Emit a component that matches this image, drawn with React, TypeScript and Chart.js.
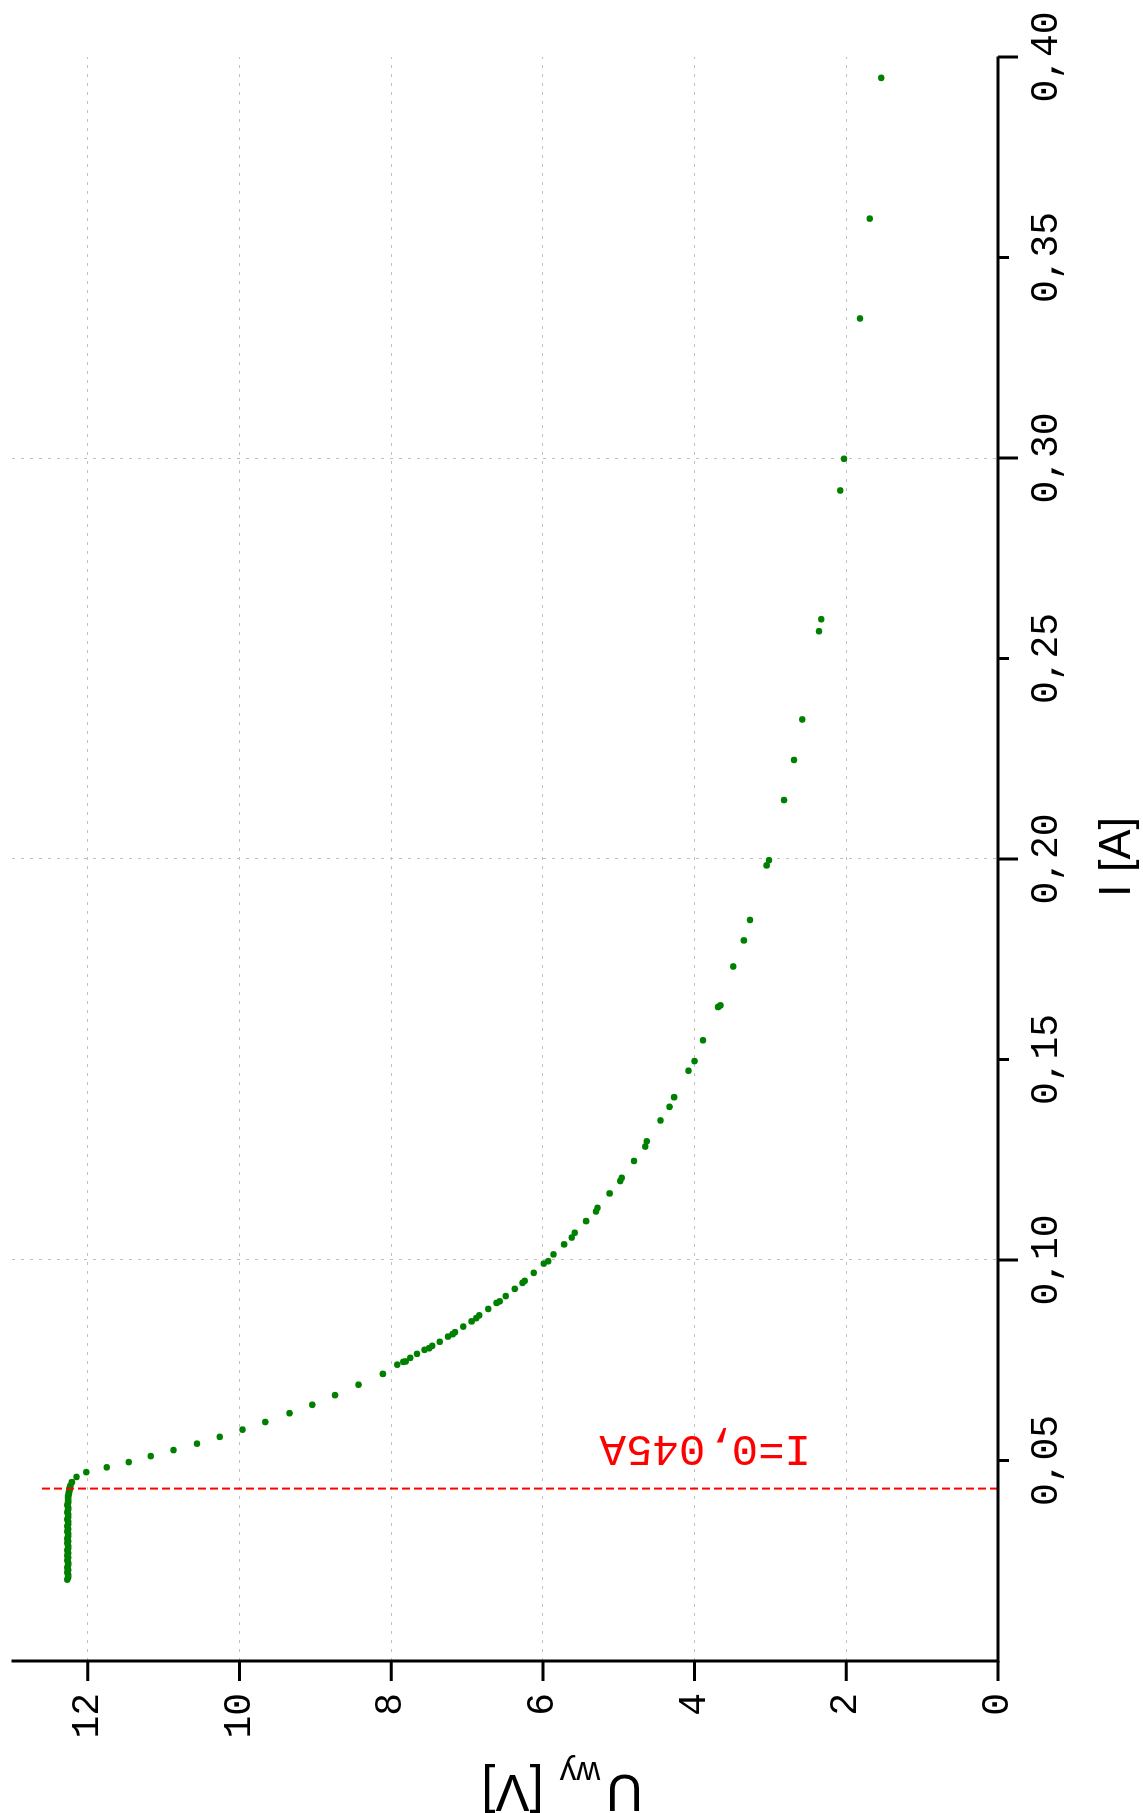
import React, { useEffect, useRef } from 'react';
import { Chart, registerables } from 'chart.js';

Chart.register(...registerables);

// Measured load characteristic: current I [A] and output voltage U_wy [V]
const currentA = [
  0.3948, 0.3597, 0.3348, 0.2998, 0.2919, 0.2598, 0.2568, 0.2348, 0.2247, 0.2147,
  0.1997, 0.1984, 0.1848, 0.1797, 0.1732, 0.1635, 0.1631, 0.1548, 0.1496, 0.1472,
  0.1406, 0.1382, 0.1348, 0.1296, 0.1283, 0.1247, 0.1205, 0.1197, 0.1166, 0.1130,
  0.1121, 0.1097, 0.1068, 0.1056, 0.1039, 0.1014, 0.0997, 0.0991, 0.0968, 0.0948,
  0.0943, 0.0928, 0.0910, 0.0897, 0.0893, 0.0878, 0.0862, 0.0855, 0.0847, 0.0834,
  0.0820, 0.0815, 0.0809, 0.0796, 0.0786, 0.0780, 0.0776, 0.0766, 0.0756, 0.0747,
  0.0746, 0.0739, 0.0716, 0.0689, 0.0663, 0.0639, 0.0618, 0.0596, 0.0577, 0.0559,
  0.0542, 0.0526, 0.0511, 0.0496, 0.0483, 0.0471, 0.0459, 0.0446, 0.0437,
];
const voltageV = [
  1.54, 1.69, 1.82, 2.03, 2.08, 2.33, 2.36, 2.58, 2.69, 2.82,
  3.02, 3.05, 3.27, 3.35, 3.49, 3.66, 3.69, 3.89, 4.00, 4.08,
  4.27, 4.33, 4.45, 4.63, 4.65, 4.80, 4.96, 4.98, 5.12, 5.28,
  5.30, 5.43, 5.58, 5.62, 5.72, 5.86, 5.93, 5.99, 6.12, 6.24,
  6.27, 6.37, 6.49, 6.57, 6.61, 6.72, 6.84, 6.88, 6.94, 7.05,
  7.16, 7.19, 7.25, 7.36, 7.46, 7.50, 7.56, 7.66, 7.75, 7.81,
  7.84, 7.92, 8.11, 8.43, 8.74, 9.04, 9.34, 9.66, 9.96, 10.26,
  10.56, 10.87, 11.17, 11.46, 11.75, 12.02, 12.15, 12.21, 12.23,
];
// Dense no-load region (points overlap into a solid column)
const clusterCurrentA = [
  0.0431, 0.0426, 0.0421, 0.0417, 0.0411, 0.0406, 0.0400, 0.0395, 0.0389, 0.0383,
  0.0378, 0.0371, 0.0366, 0.0359, 0.0353, 0.0348, 0.0341, 0.0336, 0.0329, 0.0323,
  0.0318, 0.0311, 0.0305, 0.0299, 0.0294, 0.0287, 0.0281, 0.0276, 0.0269, 0.0263,
  0.0258, 0.0251, 0.0245, 0.0240, 0.0233, 0.0227, 0.0221, 0.0215, 0.0209, 0.0203,
];
const clusterVoltageV = [
  12.24, 12.24, 12.25, 12.25, 12.26, 12.26, 12.26, 12.26, 12.27, 12.26,
  12.26, 12.27, 12.26, 12.26, 12.27, 12.26, 12.26, 12.27, 12.26, 12.27,
  12.26, 12.26, 12.27, 12.26, 12.27, 12.26, 12.26, 12.27, 12.26, 12.27,
  12.26, 12.27, 12.26, 12.26, 12.27, 12.26, 12.27, 12.26, 12.26, 12.27,
];

const cutoffCurrentA = 0.043;
const cutoffTopV = 12.65;
const cutoffLabel = 'I=0,045A';
const cutoffLabelV = 3.86;

const xTitle = 'I [A]';
const yTitleMain = 'U';
const yTitleSub = 'wy';
const yTitleUnit = ' [V]';

const xMin = 0;
const xMax = 0.4;
const xStep = 0.05;
const yMin = 0;
const yMax = 13;
const yStep = 1;

const GREEN = '#008000';
const RED = '#ff0000';
const GRID = '#c0c0c0';
const MONO = "'Liberation Mono', 'DejaVu Sans Mono', monospace";
const SANS = "'Liberation Sans', Arial, sans-serif";

const isMajorI = (v: number) => {
  const k = Math.round(v * 100);
  return k % 10 === 0;
};
const isMajorU = (v: number) => Math.round(v) % 2 === 0;

const zeroPadding = (s: any) => {
  s.paddingTop = 0;
  s.paddingBottom = 0;
  s.paddingLeft = 0;
  s.paddingRight = 0;
};

const decorPlugin = {
  id: 'decor',
  afterDraw(chart: any) {
    const ctx: CanvasRenderingContext2D = chart.ctx;
    const xs = chart.scales.x;
    const ys = chart.scales.y;
    const { left, right, top, bottom } = chart.chartArea;
    ctx.save();
    // axis lines
    ctx.strokeStyle = '#000';
    ctx.lineWidth = 3;
    ctx.lineJoin = 'miter';
    ctx.lineCap = 'butt';
    ctx.beginPath();
    ctx.moveTo(left, top - 0.5);
    ctx.lineTo(left, bottom);
    ctx.lineTo(right + 0.5, bottom);
    ctx.stroke();
    // tick marks
    ctx.beginPath();
    xs.ticks.forEach((t: any) => {
      const v = t.value;
      if (Math.abs(v) < 1e-9) return;
      const px = xs.getPixelForValue(v);
      const len = isMajorI(v) ? 20 : 11;
      ctx.moveTo(px, bottom);
      ctx.lineTo(px, bottom + len);
    });
    ys.ticks.forEach((t: any) => {
      const v = t.value;
      const py = ys.getPixelForValue(v);
      const len = isMajorU(v) ? 20 : 11;
      ctx.moveTo(left, py);
      ctx.lineTo(left - len, py);
    });
    ctx.stroke();

    // x title
    ctx.fillStyle = '#000';
    ctx.font = `45px ${SANS}`;
    ctx.textAlign = 'center';
    ctx.textBaseline = 'alphabetic';
    ctx.fillText(xTitle, (left + right) / 2 + 2, bottom + 132);

    // y title with subscript, rotated
    ctx.save();
    ctx.translate(38, 643);
    ctx.rotate(-Math.PI / 2);
    ctx.textAlign = 'left';
    ctx.font = `51px ${SANS}`;
    ctx.fillText(yTitleMain, 0, 0);
    let cx = ctx.measureText(yTitleMain).width + 6;
    ctx.font = `33px ${SANS}`;
    ctx.fillText(yTitleSub, cx, 13);
    cx += ctx.measureText(yTitleSub).width + 2;
    ctx.font = `51px ${SANS}`;
    ctx.fillText(yTitleUnit, cx, 0);
    ctx.restore();

    // cutoff annotation
    ctx.save();
    ctx.translate(xs.getPixelForValue(cutoffCurrentA) + 41, ys.getPixelForValue(cutoffLabelV));
    ctx.rotate(-Math.PI / 2);
    ctx.fillStyle = RED;
    ctx.font = `44px ${MONO}`;
    ctx.textAlign = 'center';
    ctx.textBaseline = 'middle';
    ctx.fillText(cutoffLabel, 0, 0);
    ctx.restore();

    ctx.restore();
  },
};

export default function App() {
  const ref = useRef<HTMLCanvasElement>(null);

  useEffect(() => {
    const points = [
      ...currentA.map((x, i) => ({ x, y: voltageV[i] })),
      ...clusterCurrentA.map((x, i) => ({ x, y: clusterVoltageV[i] })),
    ];
    const chart = new Chart(ref.current as HTMLCanvasElement, {
      type: 'scatter',
      data: {
        datasets: [
          {
            type: 'line',
            data: [
              { x: cutoffCurrentA, y: 0 },
              { x: cutoffCurrentA, y: cutoffTopV },
            ],
            borderColor: RED,
            borderWidth: 2,
            borderDash: [8, 4],
            pointRadius: 0,
            fill: false,
            showLine: true,
          } as any,
          {
            data: points,
            backgroundColor: GREEN,
            borderColor: GREEN,
            borderWidth: 0,
            pointRadius: 3.3,
          },
        ],
      },
      options: {
        responsive: false,
        animation: false,
        devicePixelRatio: 1,
        events: [],
        layout: { padding: { top: 12, right: 57, left: 0, bottom: 0 } },
        plugins: { legend: { display: false }, tooltip: { enabled: false } },
        scales: {
          x: {
            type: 'linear',
            position: 'bottom',
            min: xMin,
            max: xMax,
            ticks: {
              stepSize: xStep,
              autoSkip: false,
              maxRotation: 0,
              minRotation: 0,
              padding: 26,
              color: '#000',
              font: { family: MONO, size: 38 },
              callback: (value: any) => {
                const v = Number(value);
                if (Math.abs(v) < 1e-9) return null;
                return v.toFixed(2).replace('.', ',');
              },
            },
            grid: {
              drawTicks: false,
              lineWidth: 1,
              color: (c: any) => {
                const v = c.tick ? c.tick.value : 0;
                const k = Math.round(v * 100);
                return k > 0 && k < 40 && k % 10 === 0 ? GRID : 'rgba(0,0,0,0)';
              },
            },
            border: { display: false, dash: [3, 6] },
            afterFit: (s: any) => {
              s.height = 145;
              zeroPadding(s);
            },
          },
          y: {
            type: 'linear',
            position: 'left',
            min: yMin,
            max: yMax,
            ticks: {
              stepSize: yStep,
              autoSkip: false,
              padding: 32,
              color: '#000',
              font: { family: MONO, size: 38 },
              callback: (value: any) => {
                const v = Math.round(Number(value));
                return v % 2 === 0 && v <= 12 ? String(v) : null;
              },
            },
            grid: {
              drawTicks: false,
              lineWidth: 1,
              color: (c: any) => {
                const v = c.tick ? Math.round(c.tick.value) : 0;
                return v > 0 && v <= 12 && v % 2 === 0 ? GRID : 'rgba(0,0,0,0)';
              },
            },
            border: { display: false, dash: [3, 6] },
            afterFit: (s: any) => {
              s.width = 152;
              zeroPadding(s);
            },
          },
        },
      },
      plugins: [decorPlugin],
    });
    return () => chart.destroy();
  }, []);

  return (
    <div
      style={{
        position: 'absolute',
        left: 0,
        top: 0,
        width: 1143,
        height: 1813,
        overflow: 'hidden',
        background: '#fff',
      }}
    >
      <div
        style={{
          position: 'absolute',
          left: 0,
          top: 0,
          width: 1813,
          height: 1143,
          transformOrigin: '0 0',
          transform: 'translateY(1813px) rotate(-90deg)',
        }}
      >
        <canvas ref={ref} width={1813} height={1143} style={{ display: 'block', width: 1813, height: 1143 }} />
      </div>
    </div>
  );
}
